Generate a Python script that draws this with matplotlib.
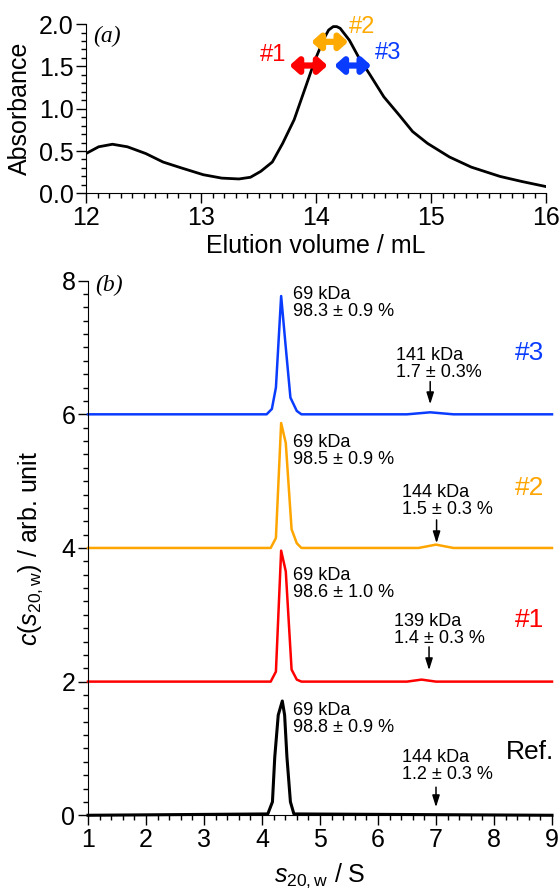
import numpy as np
import matplotlib
matplotlib.use("Agg")
import matplotlib.pyplot as plt
import matplotlib.ticker as ticker

plt.rcParams['font.family'] = ['Liberation Sans', 'DejaVu Sans']
plt.rcParams['mathtext.fontset'] = 'custom'
plt.rcParams['mathtext.rm'] = 'Liberation Sans'
plt.rcParams['mathtext.it'] = 'Liberation Sans:italic'

# (a) элюционный профиль
vol = [12.0, 12.11, 12.23, 12.36, 12.52, 12.67, 12.83, 13.02, 13.18, 13.33, 13.43,
       13.52, 13.62, 13.71, 13.81, 13.90, 13.99, 14.07, 14.11, 14.15, 14.18, 14.21,
       14.29, 14.37, 14.47, 14.59, 14.72, 14.84, 14.97, 15.16, 15.35, 15.60, 15.79, 16.0]
absb = [0.47, 0.55, 0.58, 0.55, 0.47, 0.37, 0.30, 0.22, 0.18, 0.17, 0.19,
        0.26, 0.37, 0.59, 0.87, 1.22, 1.57, 1.83, 1.93, 1.97, 1.97, 1.95,
        1.81, 1.61, 1.40, 1.14, 0.93, 0.73, 0.59, 0.43, 0.31, 0.20, 0.14, 0.08]

# фракции: (начало, конец, высота), подписи
frac_names = ['#1', '#2', '#3']
frac_start = [13.77, 13.96, 14.16]
frac_end = [14.10, 14.28, 14.48]
frac_y = [1.51, 1.79, 1.51]
frac_lab_x = [13.63, 14.40, 14.63]
frac_lab_y = [1.63, 1.96, 1.66]
frac_colors = ['#ff0000', '#ffaa00', '#0a3cff']

# (b) c(s) распределения
s_ref = [1.0, 4.10, 4.18, 4.22, 4.28, 4.35, 4.39, 4.43, 4.49, 4.55, 9.0]
c_ref = [0.0, 0.02, 0.2, 0.87, 1.5, 1.71, 1.5, 0.87, 0.2, 0.02, 0.0]
s_1 = [1.0, 4.15, 4.24, 4.33, 4.41, 4.51, 4.60, 4.68, 6.5, 6.75, 7.0, 9.0]
c_1 = [2.0, 2.0, 2.15, 3.96, 3.65, 2.18, 2.03, 2.0, 2.0, 2.03, 2.0, 2.0]
s_2 = [1.0, 4.15, 4.24, 4.33, 4.41, 4.51, 4.60, 4.68, 6.7, 7.0, 7.3, 9.0]
c_2 = [4.0, 4.0, 4.15, 5.87, 5.57, 4.28, 4.07, 4.0, 4.0, 4.05, 4.0, 4.0]
s_3 = [1.0, 4.08, 4.17, 4.24, 4.33, 4.41, 4.49, 4.60, 4.68, 6.5, 6.9, 7.3, 9.0]
c_3 = [6.0, 6.0, 6.08, 6.40, 7.77, 7.0, 6.25, 6.05, 6.0, 6.0, 6.03, 6.0, 6.0]

main_texts = ['69 kDa\n98.8 ± 0.9 %', '69 kDa\n98.6 ± 1.0 %', '69 kDa\n98.5 ± 0.9 %', '69 kDa\n98.3 ± 0.9 %']
main_y = [1.44, 3.46, 5.45, 7.66]
dimer_texts = ['144 kDa\n1.2 ± 0.3 %', '139 kDa\n1.4 ± 0.3 %', '144 kDa\n1.5 ± 0.3 %', '141 kDa\n1.7 ± 0.3%']
dimer_x = [6.42, 6.28, 6.42, 6.31]
dimer_y = [0.73, 2.77, 4.70, 6.76]
arrow_x = [7.0, 6.88, 7.01, 6.9]
arrow_top = [0.42, 2.52, 4.42, 6.49]
arrow_bot = [0.12, 2.17, 4.07, 6.15]
names = ['Ref.', '#1', '#2', '#3']
name_y = [0.94, 2.92, 4.90, 6.92]
colors = ['black', '#ff0000', '#ffa500', '#0a3cff']


def style_axis(ax):
    ax.spines['top'].set_visible(False)
    ax.spines['right'].set_visible(False)
    ax.tick_params(which='major', direction='out', length=7, width=1, labelsize=18, pad=2)
    ax.tick_params(which='minor', direction='out', length=3.5, width=1)


fig = plt.figure(figsize=(5.59, 8.91), dpi=100)
ax1 = fig.add_axes([86 / 559, 0.783, 460 / 559, 0.190])
ax2 = fig.add_axes([88 / 559, 0.085, 464 / 559, 0.600])

# --- (a)
ax1.plot(vol, absb, color='black', lw=2.0)
ax1.set_xlim(12, 16)
ax1.set_ylim(0, 2.0)
ax1.xaxis.set_major_locator(ticker.MultipleLocator(1))
ax1.xaxis.set_minor_locator(ticker.MultipleLocator(0.1))
ax1.yaxis.set_major_locator(ticker.MultipleLocator(0.5))
ax1.yaxis.set_minor_locator(ticker.MultipleLocator(0.1))
ax1.yaxis.set_major_formatter(ticker.FormatStrFormatter('%.1f'))
style_axis(ax1)
ax1.set_xlabel('Elution volume / mL', fontsize=18, labelpad=3)
ax1.set_ylabel('Absorbance', fontsize=18, labelpad=5)
ax1.text(0.015, 0.99, '(a)', transform=ax1.transAxes, fontsize=17, style='italic',
         family='Liberation Serif', va='top', ha='left')
for i in range(3):
    ax1.annotate('', xy=(frac_end[i], frac_y[i]), xytext=(frac_start[i], frac_y[i]),
                 arrowprops=dict(arrowstyle='<|-|>,head_length=0.5,head_width=0.45',
                                 lw=4.5, color=frac_colors[i], shrinkA=0, shrinkB=0))
    ax1.text(frac_lab_x[i], frac_lab_y[i], frac_names[i], color=frac_colors[i],
             fontsize=17, ha='center', va='center')

# --- (b)
for s, c, col in zip([s_ref, s_1, s_2, s_3], [c_ref, c_1, c_2, c_3], colors):
    ax2.plot(s, c, color=col, lw=2.2 if col == 'black' else 1.8, clip_on=False)
for i in range(4):
    ax2.text(4.53, main_y[i], main_texts[i], fontsize=13, ha='left', va='center', linespacing=1.0)
    ax2.text(dimer_x[i], dimer_y[i], dimer_texts[i], fontsize=13, ha='left', va='center', linespacing=1.0)
    ax2.annotate('', xy=(arrow_x[i], arrow_bot[i]), xytext=(arrow_x[i], arrow_top[i]),
                 arrowprops=dict(arrowstyle='-|>,head_length=0.7,head_width=0.22',
                                 lw=1.1, color='black', shrinkA=0, shrinkB=0))
    ax2.text(8.62, name_y[i], names[i], color=colors[i], fontsize=19, ha='center', va='center')
ax2.set_xlim(1, 9)
ax2.set_ylim(0, 8)
ax2.xaxis.set_major_locator(ticker.MultipleLocator(1))
ax2.xaxis.set_minor_locator(ticker.MultipleLocator(0.2))
ax2.yaxis.set_major_locator(ticker.MultipleLocator(2))
ax2.yaxis.set_minor_locator(ticker.MultipleLocator(0.2))
style_axis(ax2)
ax2.set_xlabel(r'$s_{20,\mathrm{w}}$ / S', fontsize=18, labelpad=7)
ax2.set_ylabel(r'$c$($s_{20,\mathrm{w}}$) / arb. unit', fontsize=18, labelpad=12)
ax2.text(0.015, 1.01, '(b)', transform=ax2.transAxes, fontsize=17, style='italic',
         family='Liberation Serif', va='top', ha='left')

fig.savefig('out.png', dpi=100)
